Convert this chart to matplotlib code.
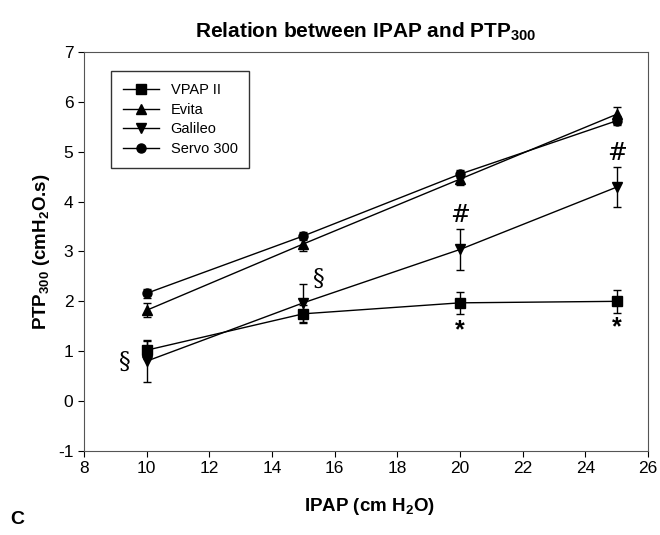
import matplotlib
matplotlib.use("Agg")
import matplotlib.pyplot as plt
from matplotlib.lines import Line2D

plt.rcParams['font.family'] = ['Liberation Sans', 'DejaVu Sans']
plt.rcParams['mathtext.default'] = 'regular'
plt.rcParams['axes.unicode_minus'] = False

# datos
ipap = [10, 15, 20, 25]

vpap = [1.02, 1.75, 1.97, 2.0]
vpap_err = [0.18, 0.18, 0.22, 0.23]

evita = [1.82, 3.15, 4.45, 5.75]
evita_err = [0.14, 0.15, 0.12, 0.14]

galileo = [0.8, 1.97, 3.04, 4.29]
galileo_err = [0.42, 0.38, 0.41, 0.4]

servo = [2.16, 3.31, 4.55, 5.62]
servo_err = [0.09, 0.08, 0.08, 0.09]

series = [
    ('VPAP II', vpap, vpap_err, 's'),
    ('Evita', evita, evita_err, '^'),
    ('Galileo', galileo, galileo_err, 'v'),
    ('Servo 300', servo, servo_err, 'o'),
]

# marcas de significancia (x, y, simbolo)
marcas = [
    (9.3, 0.78, '§'),
    (15.5, 2.45, '§'),
    (20, 3.72, '#'),
    (25, 4.96, '#'),
    (20, 1.42, '*'),
    (25, 1.47, '*'),
]

fig = plt.figure(figsize=(6.6, 5.35), dpi=100)
ax = fig.add_axes([0.127, 0.157, 0.855, 0.746])

handles = []
for nombre, valores, err, mk in series:
    ax.errorbar(ipap, valores, yerr=err, color='black', marker=mk, markersize=6.5,
                linewidth=1, elinewidth=1, capsize=3, capthick=1)
    handles.append(Line2D([], [], color='black', marker=mk, markersize=6.5,
                          linewidth=1, label=nombre))

for x, y, s in marcas:
    if s == '*':
        ax.text(x, y, s, ha='center', va='center', fontsize=18, fontweight='bold')
    else:
        ax.text(x, y, s, ha='center', va='center', fontsize=17, family='DejaVu Serif')

ax.set_xlim(8, 26)
ax.set_ylim(-1, 7)
ax.set_xticks(range(8, 27, 2))
ax.set_yticks(range(-1, 8))
ax.tick_params(labelsize=12.5, direction='out', length=4)
for sp in ax.spines.values():
    sp.set_color('#555555')

ax.set_title('Relation between IPAP and PTP$_{300}$', fontsize=15, fontweight='bold', pad=10)
ax.set_ylabel('PTP$_{300}$ (cmH$_2$O.s)', fontsize=13.5, fontweight='bold')
fig.text(0.56, 0.045, 'IPAP (cm H$_2$O)', ha='center', fontsize=13.5, fontweight='bold')
fig.text(0.015, 0.02, 'C', fontsize=14, fontweight='bold')

leg = ax.legend(handles=handles, loc='upper left', bbox_to_anchor=(0.035, 0.97),
                fontsize=10.5, frameon=True, fancybox=False, edgecolor='black',
                handlelength=2.5, labelspacing=0.4, borderpad=0.8)
leg.get_frame().set_linewidth(1)

fig.savefig('out.png', dpi=100)
